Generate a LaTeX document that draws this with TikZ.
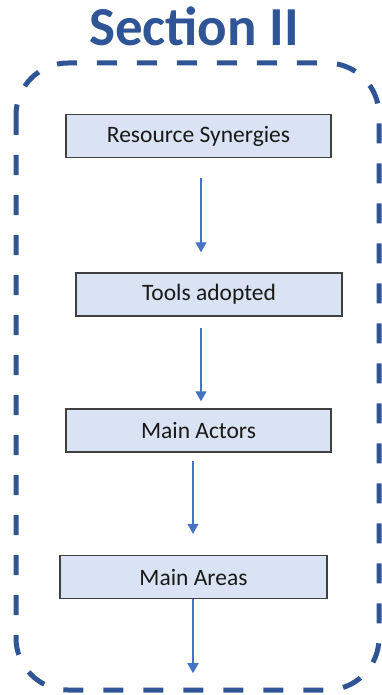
\documentclass[tikz,border=0pt]{standalone}
\usepackage{fontspec}
\setmainfont{Carlito}
\usepackage{xcolor}
\usepackage{tikz}
\usetikzlibrary{arrows.meta}
\definecolor{frameblue}{HTML}{2F5597}
\definecolor{boxfill}{HTML}{DAE3F3}
\definecolor{arrowblue}{HTML}{4472C4}
\tikzset{
  box/.style={draw=black!75,fill=boxfill,line width=1.4pt,minimum height=43pt,
              minimum width=265pt,inner sep=0pt,font=\fontsize{23.5}{28}\selectfont,
              text=black!90},
  frame/.style={draw=frameblue,line width=5pt,dash pattern=on 20pt off 20pt,
                rounded corners=52pt},
  flow/.style={-{Triangle[length=10pt,width=11pt]},line width=1.3pt,draw=arrowblue,
               fill=arrowblue},
  ttl/.style={font=\fontsize{55}{60}\selectfont\bfseries,text=frameblue,inner sep=0pt}
}
\begin{document}
\begin{tikzpicture}[x=1pt,y=-1pt]
  \useasboundingbox (0,0) rectangle (382,695);
  % title and dashed frame
  \node[ttl,anchor=base] (title) at (194,46) {Section II};
  \draw[frame] (16,63) rectangle (379,690);

  \node[box] (syn) at (198.5,136) {Resource Synergies};
  \node[box,minimum width=266pt] (tools) at (209,294.5) {Tools adopted};
  \node[box] (actors) at (198.5,430.5) {Main Actors};
  \node[box,minimum width=267pt] (areas) at (193.5,577) {Main Areas};

  \draw[flow] ([xshift=2.5pt,yshift=-20pt]syn.south) -- ([xshift=-8pt,yshift=20pt]tools.north);
  \draw[flow] ([xshift=-8pt,yshift=-11pt]tools.south) -- ([xshift=2.5pt,yshift=7pt]actors.north);
  \draw[flow] ([xshift=-5.5pt,yshift=-8pt]actors.south) -- ([xshift=-0.5pt,yshift=21pt]areas.north);
  \draw[flow] ([xshift=-0.5pt]areas.south) -- ([xshift=-0.5pt,yshift=-74pt]areas.south);
\end{tikzpicture}
\end{document}
